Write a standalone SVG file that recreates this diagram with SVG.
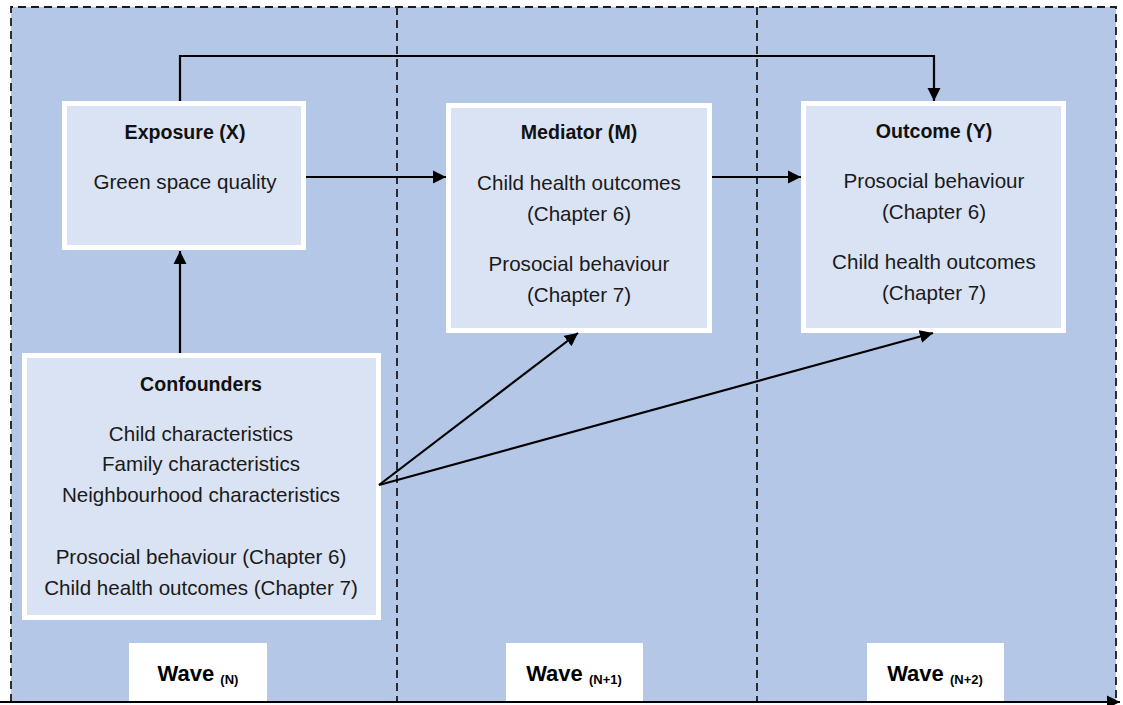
<svg xmlns="http://www.w3.org/2000/svg" width="1123" height="705" viewBox="0 0 1123 705">
<defs>
<style>
.box{fill:#dae3f3;stroke:#ffffff;stroke-width:5}
.wave{fill:#ffffff}
.t{font-family:"Liberation Sans",Arial,sans-serif;font-size:20.6px;fill:#1a1a1a;text-anchor:middle}
.b{font-family:"Liberation Sans",Arial,sans-serif;font-size:19.6px;font-weight:bold;fill:#111;text-anchor:middle}
.w{font-family:"Liberation Sans",Arial,sans-serif;font-size:22px;font-weight:bold;fill:#000;text-anchor:middle}
.sub{font-size:13px}
.conn{fill:none;stroke:#000;stroke-width:2.2}
.dash{fill:none;stroke:#1a1a1a;stroke-width:1.8;stroke-dasharray:8,5}
</style>
<marker id="ah" viewBox="0 0 10 10" refX="10" refY="5" markerWidth="6" markerHeight="6" orient="auto" markerUnits="strokeWidth">
<path d="M0,0 L10,5 L0,10 z" fill="#000"/>
</marker>
</defs>
<rect x="0" y="0" width="1123" height="705" fill="#ffffff"/>
<g id="background">
<rect x="11" y="7" width="1105" height="695" fill="#b4c7e7"/>
<path class="dash" d="M11,702 L11,7 L1116,7 L1116,702"/>
<line class="dash" x1="397" y1="7" x2="397" y2="702"/>
<line class="dash" x1="757" y1="7" x2="757" y2="702"/>
</g>
<g id="exposure">
<rect class="box" x="64.5" y="103.5" width="239" height="144"/>
<text class="b" x="185" y="139">Exposure (X)</text>
<text class="t" x="185" y="189">Green space quality</text>
</g>
<g id="mediator">
<rect class="box" x="448.5" y="105.5" width="261" height="225"/>
<text class="b" x="579" y="139">Mediator (M)</text>
<text class="t" x="579" y="190">Child health outcomes</text>
<text class="t" x="579" y="221">(Chapter 6)</text>
<text class="t" x="579" y="271">Prosocial behaviour</text>
<text class="t" x="579" y="302">(Chapter 7)</text>
</g>
<g id="outcome">
<rect class="box" x="803.5" y="103.5" width="260" height="227"/>
<text class="b" x="934" y="138">Outcome (Y)</text>
<text class="t" x="934" y="188">Prosocial behaviour</text>
<text class="t" x="934" y="219">(Chapter 6)</text>
<text class="t" x="934" y="269">Child health outcomes</text>
<text class="t" x="934" y="300">(Chapter 7)</text>
</g>
<g id="confounders">
<rect class="box" x="24.5" y="355.5" width="354" height="262"/>
<text class="b" x="201" y="391">Confounders</text>
<text class="t" x="201" y="441">Child characteristics</text>
<text class="t" x="201" y="471">Family characteristics</text>
<text class="t" x="201" y="502">Neighbourhood characteristics</text>
<text class="t" x="201" y="564">Prosocial behaviour (Chapter 6)</text>
<text class="t" x="201" y="595">Child health outcomes (Chapter 7)</text>
</g>
<g id="wave-n">
<rect class="wave" x="129" y="643" width="138" height="58"/>
<text class="w" x="198" y="681">Wave <tspan class="sub" dy="3">(N)</tspan></text>
</g>
<g id="wave-n1">
<rect class="wave" x="506" y="643" width="137" height="58"/>
<text class="w" x="574" y="681">Wave <tspan class="sub" dy="3">(N+1)</tspan></text>
</g>
<g id="wave-n2">
<rect class="wave" x="867" y="643" width="137" height="58"/>
<text class="w" x="935" y="681">Wave <tspan class="sub" dy="3">(N+2)</tspan></text>
</g>
<g id="connectors">
<path class="conn" d="M180,101 L180,56 L934,56 L934,101" marker-end="url(#ah)"/>
<line class="conn" x1="306" y1="177" x2="446" y2="177" marker-end="url(#ah)"/>
<line class="conn" x1="712" y1="177" x2="801" y2="177" marker-end="url(#ah)"/>
<line class="conn" x1="180" y1="353" x2="180" y2="251" marker-end="url(#ah)"/>
<line class="conn" x1="379" y1="485" x2="578" y2="333" marker-end="url(#ah)"/>
<line class="conn" x1="379" y1="485" x2="933" y2="333" marker-end="url(#ah)"/>
<line class="conn" x1="0" y1="702" x2="1120" y2="702" stroke-width="2.8" marker-end="url(#ah)"/>
</g>
</svg>
